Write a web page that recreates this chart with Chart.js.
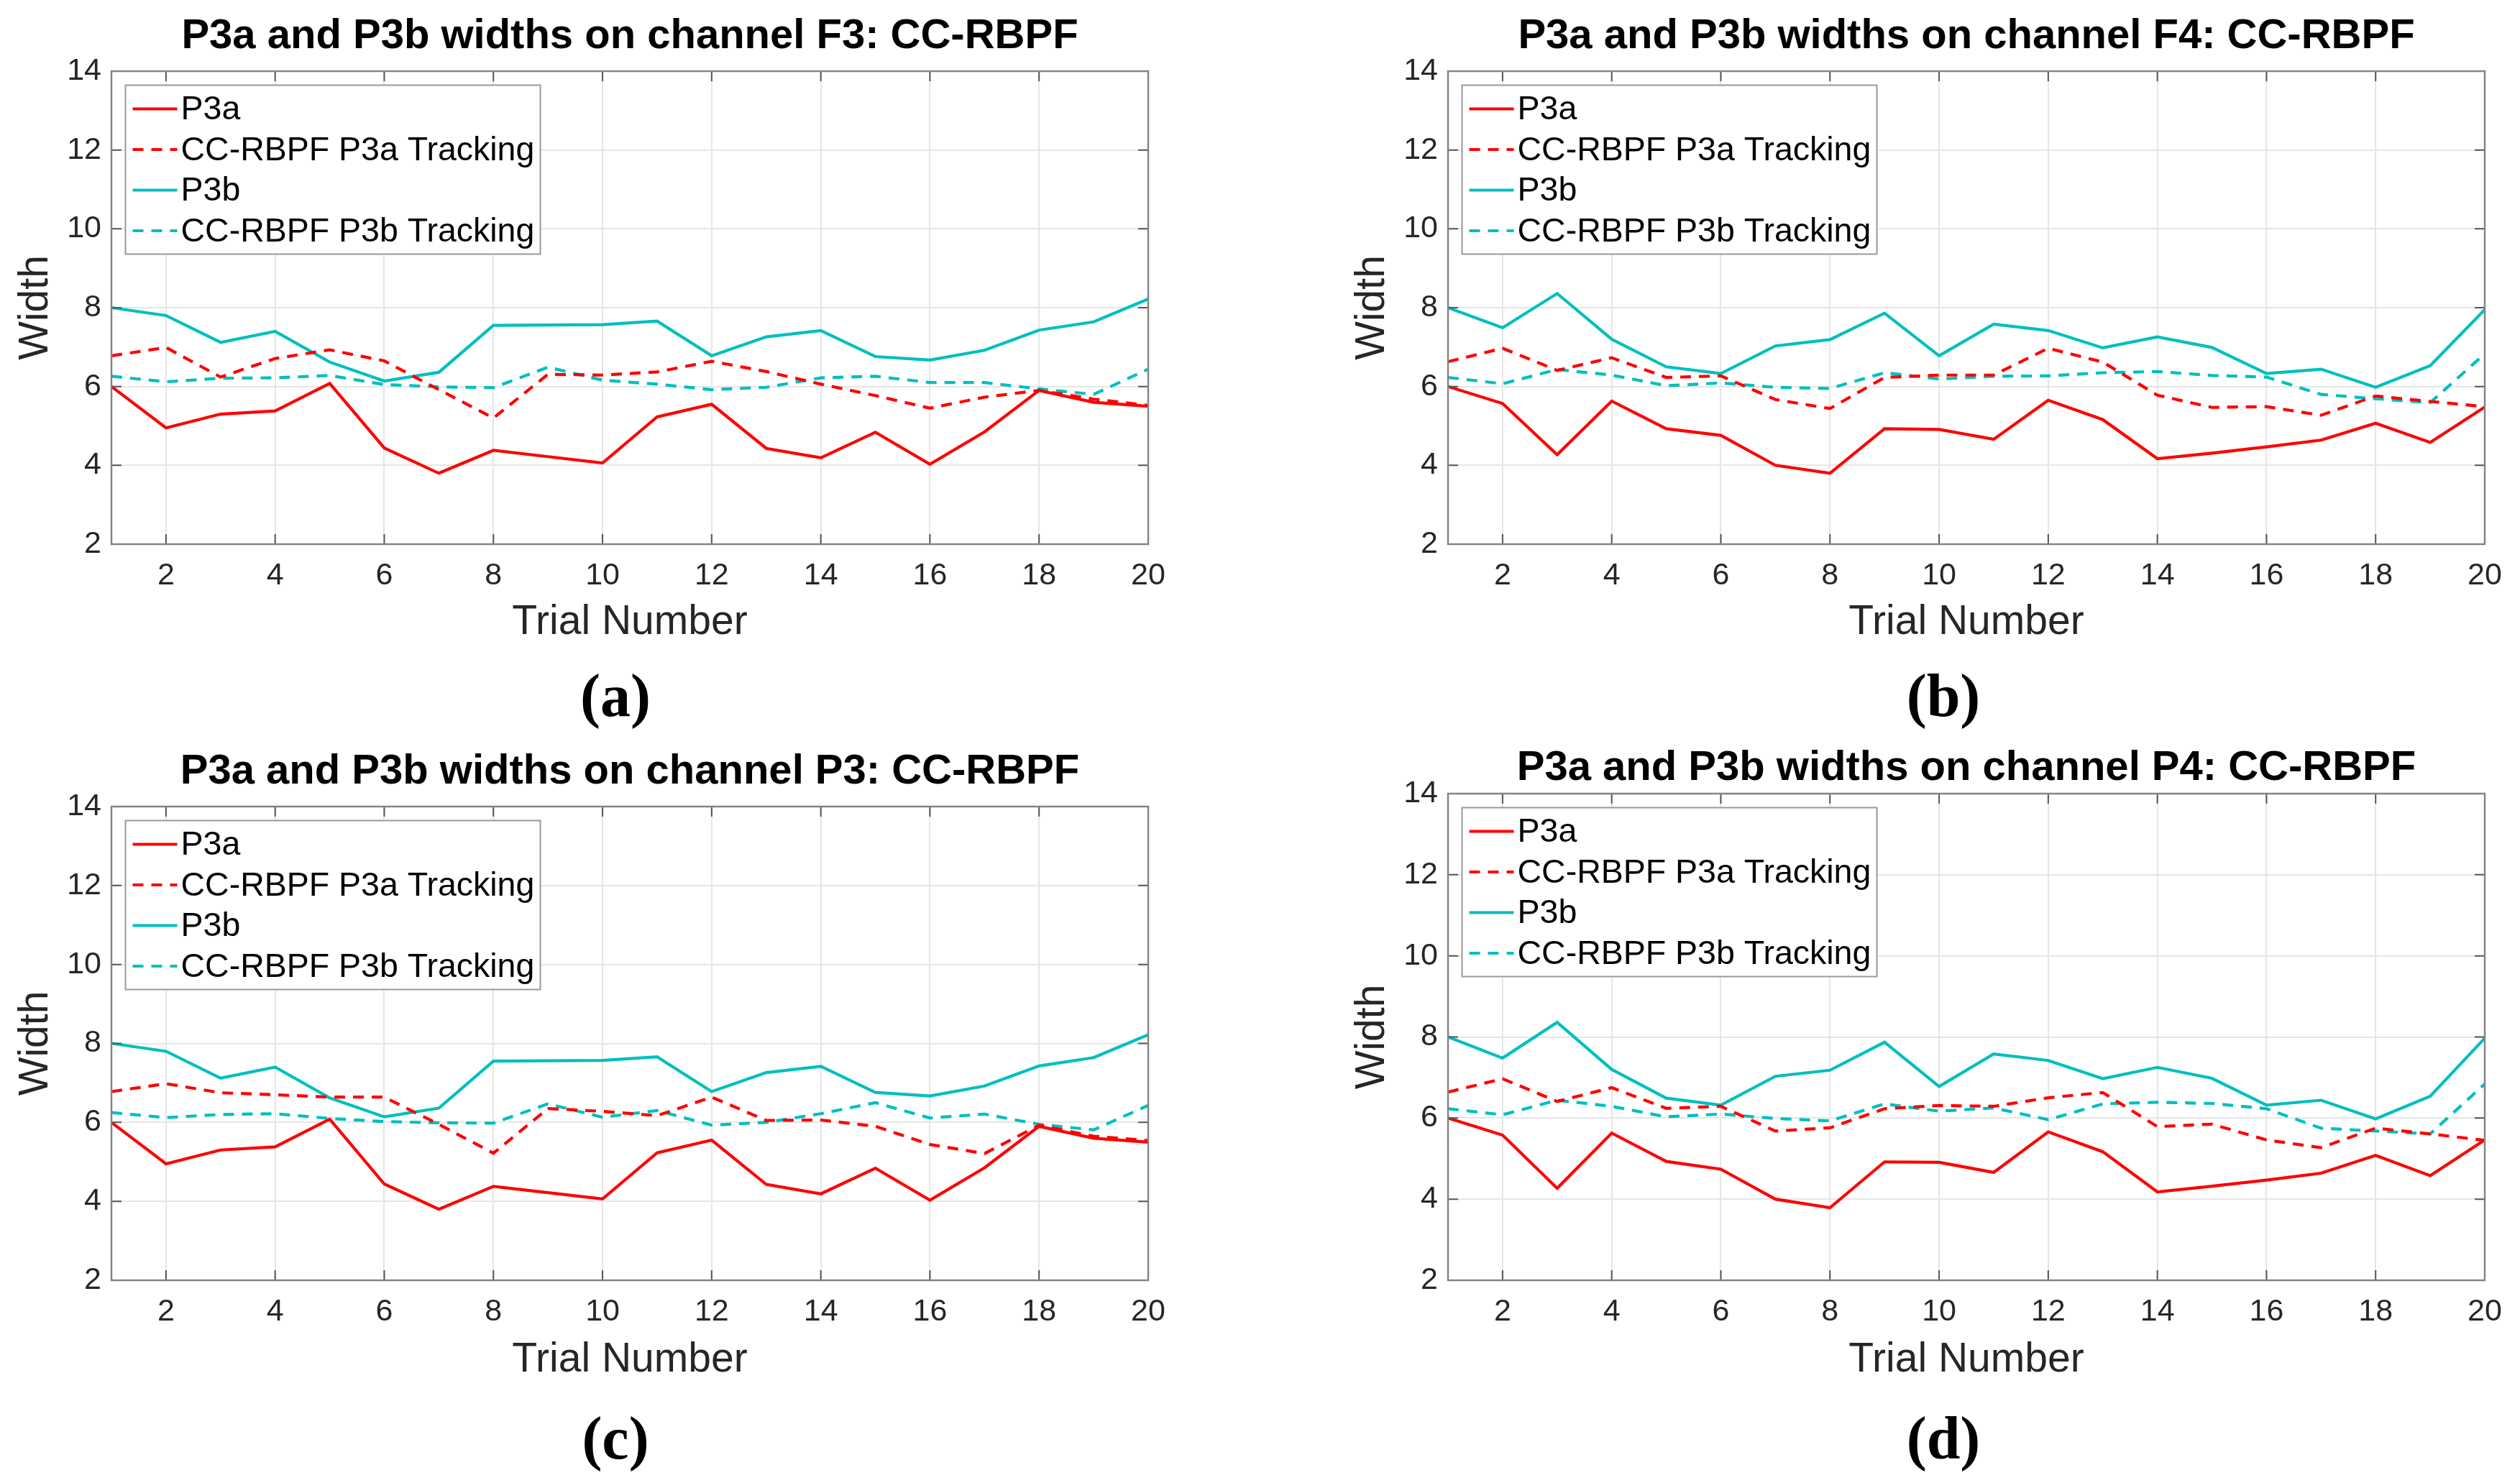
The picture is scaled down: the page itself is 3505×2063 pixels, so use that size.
<!DOCTYPE html>
<html lang="en">
  <head>
    <meta charset="UTF-8" />
    <title>P3a and P3b widths: CC-RBPF</title>
    <style>
      body {
        margin: 0;
        width: 3505px;
        height: 2063px;
        background: #fff;
        position: relative;
        overflow: hidden;
      }
      .panel {
        position: absolute;
      }
      .cap {
        position: absolute;
        font-family: "Liberation Serif", serif;
        font-weight: bold;
        font-size: 84px;
        line-height: 1;
        color: #000;
        transform: translate(-50%, -50%);
      }
    </style>
  </head>
  <body>
    <div class="panel" style="left: 0px; top: 0px; width: 1700px; height: 900px">
      <canvas id="chart_f3"></canvas>
    </div>
    <div class="panel" style="left: 1859px; top: 0px; width: 1646px; height: 900px">
      <canvas id="chart_f4"></canvas>
    </div>
    <div class="panel" style="left: 0px; top: 1023px; width: 1700px; height: 903px">
      <canvas id="chart_p3"></canvas>
    </div>
    <div class="panel" style="left: 1859px; top: 1019px; width: 1646px; height: 907px">
      <canvas id="chart_p4"></canvas>
    </div>
    <div class="cap" style="left: 856px; top: 968px">(a)</div>
    <div class="cap" style="left: 2703px; top: 968px">(b)</div>
    <div class="cap" style="left: 856px; top: 2001px">(c)</div>
    <div class="cap" style="left: 2703px; top: 2001px">(d)</div>

    <script src="https://cdn.jsdelivr.net/npm/chart.js@4.4.1/dist/chart.umd.min.js"></script>
    <script>
      const trials = [1, 2, 3, 4, 5, 6, 7, 8, 9, 10, 11, 12, 13, 14, 15, 16, 17, 18, 19, 20];
      const yTicks = [2, 4, 6, 8, 10, 12, 14];

      // channel F3
      const f3P3a = [6.0, 4.95, 5.3, 5.38, 6.08, 4.44, 3.8, 4.38, 4.22, 4.06, 5.23, 5.55, 4.43, 4.19, 4.84, 4.03, 4.85, 5.9, 5.6, 5.5];
      const f3P3aTrack = [6.78, 6.99, 6.24, 6.71, 6.93, 6.65, 5.92, 5.2, 6.31, 6.29, 6.37, 6.64, 6.38, 6.06, 5.77, 5.45, 5.73, 5.9, 5.68, 5.52];
      const f3P3b = [8.0, 7.8, 7.12, 7.4, 6.62, 6.14, 6.36, 7.55, 7.56, 7.57, 7.66, 6.78, 7.26, 7.42, 6.76, 6.67, 6.92, 7.43, 7.64, 8.22];
      const f3P3bTrack = [6.26, 6.12, 6.21, 6.22, 6.28, 6.05, 5.99, 5.97, 6.49, 6.16, 6.06, 5.92, 5.98, 6.22, 6.26, 6.1, 6.1, 5.94, 5.8, 6.44];

      // channel F4
      const f4P3a = [6.0, 5.57, 4.27, 5.63, 4.93, 4.76, 4.0, 3.8, 4.93, 4.91, 4.66, 5.65, 5.16, 4.17, 4.31, 4.47, 4.64, 5.07, 4.58, 5.48];
      const f4P3aTrack = [6.63, 6.97, 6.41, 6.73, 6.23, 6.27, 5.67, 5.44, 6.23, 6.29, 6.29, 6.97, 6.62, 5.78, 5.47, 5.49, 5.27, 5.76, 5.62, 5.49];
      const f4P3b = [8.0, 7.49, 8.36, 7.2, 6.5, 6.33, 7.03, 7.19, 7.86, 6.78, 7.58, 7.42, 6.98, 7.26, 6.99, 6.33, 6.44, 5.98, 6.53, 7.95];
      const f4P3bTrack = [6.23, 6.07, 6.43, 6.29, 6.02, 6.09, 5.98, 5.95, 6.35, 6.19, 6.26, 6.27, 6.35, 6.38, 6.28, 6.24, 5.8, 5.69, 5.59, 6.83];

      // channel P3
      const p3P3a = [6.0, 4.95, 5.3, 5.38, 6.08, 4.44, 3.8, 4.38, 4.22, 4.06, 5.23, 5.55, 4.43, 4.19, 4.84, 4.03, 4.85, 5.9, 5.6, 5.5];
      const p3P3aTrack = [6.78, 6.98, 6.75, 6.7, 6.64, 6.64, 5.95, 5.22, 6.35, 6.28, 6.17, 6.64, 6.05, 6.06, 5.9, 5.44, 5.21, 5.93, 5.65, 5.54];
      const p3P3b = [8.0, 7.8, 7.12, 7.4, 6.62, 6.14, 6.36, 7.55, 7.56, 7.57, 7.66, 6.78, 7.26, 7.42, 6.76, 6.67, 6.92, 7.43, 7.64, 8.22];
      const p3P3bTrack = [6.25, 6.12, 6.2, 6.22, 6.1, 6.02, 5.99, 5.98, 6.47, 6.13, 6.3, 5.93, 6.0, 6.22, 6.5, 6.11, 6.21, 5.95, 5.81, 6.43];

      // channel P4
      const p4P3a = [6.0, 5.58, 4.27, 5.63, 4.93, 4.74, 4.0, 3.79, 4.92, 4.91, 4.66, 5.66, 5.17, 4.18, 4.32, 4.47, 4.64, 5.08, 4.58, 5.46];
      const p4P3aTrack = [6.64, 6.97, 6.41, 6.75, 6.24, 6.29, 5.68, 5.76, 6.23, 6.31, 6.29, 6.5, 6.63, 5.79, 5.85, 5.46, 5.27, 5.75, 5.61, 5.45];
      const p4P3b = [8.0, 7.48, 8.36, 7.2, 6.49, 6.32, 7.03, 7.18, 7.87, 6.78, 7.58, 7.42, 6.97, 7.25, 6.98, 6.32, 6.44, 5.98, 6.54, 7.97];
      const p4P3bTrack = [6.23, 6.08, 6.44, 6.29, 6.03, 6.1, 5.99, 5.93, 6.35, 6.17, 6.25, 5.96, 6.35, 6.39, 6.36, 6.23, 5.75, 5.68, 5.61, 6.84];

      const RED = "#ff0000";
      const CYAN = "#00bfbf";
      const DASH = [15, 11];
      const LW = 4.2;
      const SANS = "'Liberation Sans', Arial, sans-serif";

      // matlab style box with inward ticks on all four sides + legend
      const matlabBox = {
        id: "matlabBox",
        afterDatasetsDraw(chart) {
          const { ctx, chartArea: a, scales } = chart;
          ctx.save();
          ctx.strokeStyle = "#555";
          ctx.lineWidth = 2;
          const tl = 14;
          ctx.beginPath();
          scales.x.ticks.forEach((t) => {
            const px = scales.x.getPixelForValue(t.value);
            ctx.moveTo(px, a.bottom);
            ctx.lineTo(px, a.bottom - tl);
            ctx.moveTo(px, a.top);
            ctx.lineTo(px, a.top + tl);
          });
          scales.y.ticks.forEach((t) => {
            const py = scales.y.getPixelForValue(t.value);
            ctx.moveTo(a.left, py);
            ctx.lineTo(a.left + tl, py);
            ctx.moveTo(a.right, py);
            ctx.lineTo(a.right - tl, py);
          });
          ctx.stroke();
          ctx.strokeStyle = "#858585";
          ctx.lineWidth = 2.5;
          ctx.strokeRect(a.left, a.top, a.right - a.left, a.bottom - a.top);

          // legend
          const lx = a.left + 19.5;
          const ly = a.top + 19.5;
          ctx.fillStyle = "#fff";
          ctx.fillRect(lx, ly, 577, 235);
          ctx.strokeStyle = "#999";
          ctx.lineWidth = 2;
          ctx.strokeRect(lx, ly, 577, 235);
          ctx.font = "46.5px " + SANS;
          ctx.textBaseline = "middle";
          chart.data.datasets.forEach((ds, i) => {
            const cy = ly + 33 + i * 56.5;
            ctx.strokeStyle = ds.borderColor;
            ctx.lineWidth = LW;
            ctx.setLineDash(ds.borderDash || []);
            ctx.beginPath();
            ctx.moveTo(lx + 10, cy);
            ctx.lineTo(lx + 72, cy);
            ctx.stroke();
            ctx.setLineDash([]);
            ctx.fillStyle = "#000";
            ctx.fillText(ds.label, lx + 77, cy + 2);
          });
          ctx.restore();
        },
      };

      function series(label, vals, color, dashed) {
        return {
          label: label,
          data: trials.map((t, i) => ({ x: t, y: vals[i] })),
          borderColor: color,
          borderWidth: LW,
          borderDash: dashed ? DASH : [],
          pointRadius: 0,
          tension: 0,
          fill: false,
        };
      }

      function makeChart(id, channel, p3a, p3aTrack, p3b, p3bTrack, titlePad, xAxisH) {
        return new Chart(document.getElementById(id), {
          type: "line",
          data: {
            datasets: [
              series("P3a", p3a, RED, false),
              series("CC-RBPF P3a Tracking", p3aTrack, RED, true),
              series("P3b", p3b, CYAN, false),
              series("CC-RBPF P3b Tracking", p3bTrack, CYAN, true),
            ],
          },
          options: {
            responsive: true,
            maintainAspectRatio: false,
            animation: false,
            layout: { padding: { left: 0, right: id.endsWith("3") ? 103 : 49, top: 0, bottom: 0 } },
            plugins: {
              legend: { display: false },
              tooltip: { enabled: false },
              title: {
                display: true,
                fullSize: false,
                text: "P3a and P3b widths on channel " + channel + ": CC-RBPF",
                color: "#000",
                font: { family: SANS, size: 58, weight: "bold" },
                padding: titlePad,
              },
            },
            scales: {
              x: {
                type: "linear",
                min: 1,
                max: 20,
                ticks: {
                  stepSize: 2,
                  padding: 18,
                  color: "#262626",
                  font: { family: SANS, size: 43 },
                },
                afterBuildTicks: (s) => {
                  s.ticks = s.ticks.filter((t) => t.value % 2 === 0);
                },
                grid: { color: "#e6e6e6", lineWidth: 2, drawTicks: false },
                border: { display: false },
                title: {
                  display: true,
                  text: "Trial Number",
                  color: "#262626",
                  font: { family: SANS, size: 57 },
                  padding: { top: 0, bottom: 0 },
                },
                afterFit: (s) => {
                  s.height = xAxisH;
                },
              },
              y: {
                min: 2,
                max: 14,
                ticks: {
                  stepSize: 2,
                  padding: 14,
                  color: "#262626",
                  font: { family: SANS, size: 43 },
                },
                afterBuildTicks: (s) => {
                  s.ticks = yTicks.map((v) => ({ value: v }));
                },
                grid: { color: "#e6e6e6", lineWidth: 2, drawTicks: false },
                border: { display: false },
                title: {
                  display: true,
                  text: "Width",
                  color: "#262626",
                  font: { family: SANS, size: 57 },
                  padding: { top: 16, bottom: 0 },
                },
                afterFit: (s) => {
                  s.width = 155;
                },
              },
            },
          },
          plugins: [matlabBox],
        });
      }

      makeChart("chart_f3", "F3", f3P3a, f3P3aTrack, f3P3b, f3P3bTrack, { top: 16.2, bottom: 13.2 }, 143);
      makeChart("chart_f4", "F4", f4P3a, f4P3aTrack, f4P3b, f4P3bTrack, { top: 16.2, bottom: 13.2 }, 143);
      makeChart("chart_p3", "P3", p3P3a, p3P3aTrack, p3P3b, p3P3bTrack, { top: 16.2, bottom: 13.2 }, 145);
      makeChart("chart_p4", "P4", p4P3a, p4P3aTrack, p4P3b, p4P3bTrack, { top: 15.4, bottom: 0 }, 145);
    </script>
  </body>
</html>
